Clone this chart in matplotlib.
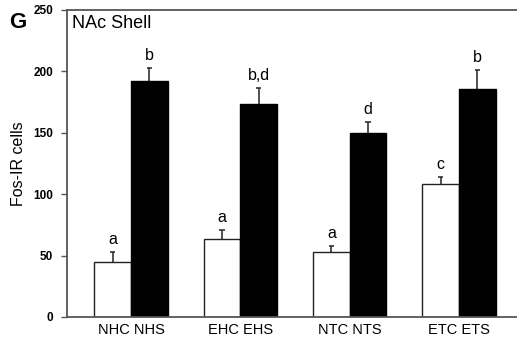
import matplotlib.pyplot as plt
import numpy as np

groups = ['NHC NHS', 'EHC EHS', 'NTC NTS', 'ETC ETS']
ctrl = [44.5, 63.8, 52.7, 108.3]
ctrl_err = [8.7, 6.8, 5.4, 5.9]
shock = [192.4, 173.7, 149.6, 185.7]
shock_err = [10.6, 13.0, 8.9, 15.7]
ctrl_lab = ['a', 'a', 'a', 'c']
shock_lab = ['b', 'b,d', 'd', 'b']

plt.rcParams['font.family'] = ['Liberation Sans', 'DejaVu Sans']
fig = plt.figure(figsize=(5.17, 3.41), dpi=100)
ax = fig.add_axes([0.1296, 0.0704, 0.8704, 0.9003])

x = np.arange(len(groups))
w = 0.335
ax.bar(x - w/2, ctrl, w, color='white', edgecolor='#222222', linewidth=1.0, zorder=2)
ax.bar(x + w/2, shock, w, color='black', edgecolor='black', linewidth=1.0, zorder=2)

# upper error bars only
for xs, top, err in [(x - w/2, ctrl, ctrl_err), (x + w/2, shock, shock_err)]:
    top = np.array(top)
    hi = top + np.array(err)
    ax.vlines(xs, top, hi, color='#333333', linewidth=1.2, zorder=1)
    ax.hlines(hi, xs - 0.025, xs + 0.025, color='#333333', linewidth=1.2, zorder=1)

for i in range(len(groups)):
    ax.text(x[i] - w/2, ctrl[i] + ctrl_err[i] + 4, ctrl_lab[i], ha='center', va='bottom', fontsize=11.5)
    ax.text(x[i] + w/2, shock[i] + shock_err[i] + 4, shock_lab[i], ha='center', va='bottom', fontsize=11.5)

ax.set_xlim(-0.586, 3.53)
ax.set_ylim(0, 250)
ax.set_yticks([0, 50, 100, 150, 200, 250])
ax.set_yticklabels(['0', '50', '100', '150', '200', '250'], fontweight='bold', fontsize=8.5)
ax.set_xticks(x)
ax.set_xticklabels(groups, fontsize=10.5)
ax.tick_params(axis='x', length=0, pad=4)
ax.tick_params(axis='y', length=4, width=1, color='#555555', pad=6)
ax.set_ylabel('Fos-IR cells', fontsize=11.5, labelpad=5)
ax.spines['right'].set_visible(False)
for s in ['left', 'top', 'bottom']:
    ax.spines[s].set_color('#555555')
    ax.spines[s].set_linewidth(1.3)

ax.text(0.01, 0.985, 'NAc Shell', transform=ax.transAxes, ha='left', va='top', fontsize=13)
fig.text(0.018, 0.965, 'G', fontsize=16, fontweight='bold', ha='left', va='top')

fig.savefig('out.png', dpi=100)
